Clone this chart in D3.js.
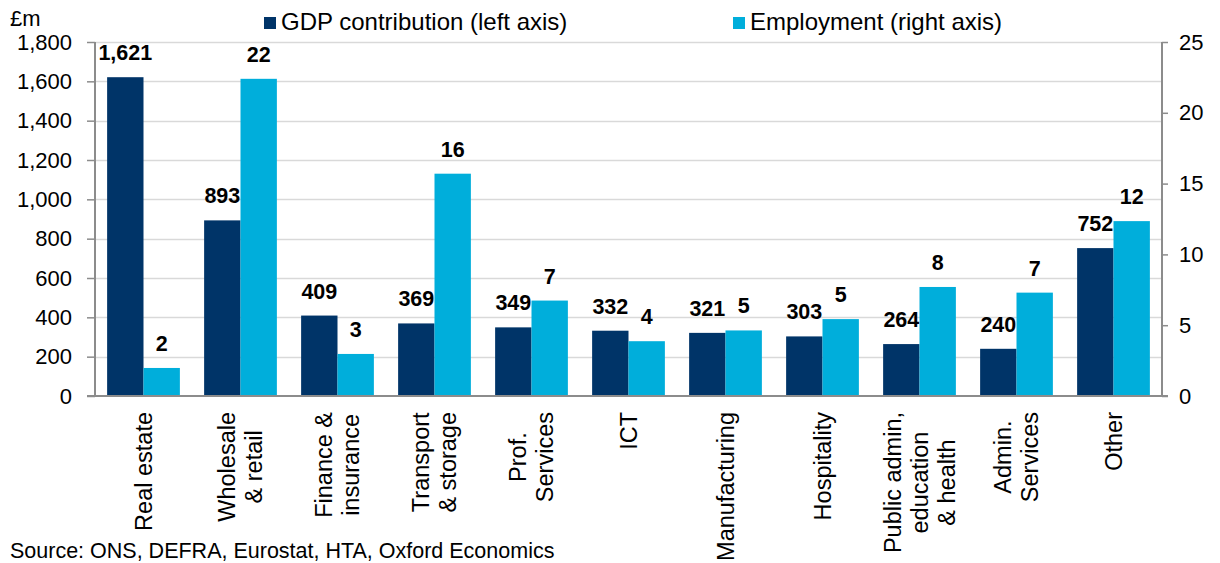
<!DOCTYPE html>
<html>
<head>
<meta charset="utf-8">
<script src="https://cdn.jsdelivr.net/npm/d3@7"></script>
<style>
  html, body { margin: 0; padding: 0; background: #fff; }
  svg { display: block; font-family: "Liberation Sans", Arial, sans-serif; }
</style>
</head>
<body>
<svg id="chart" width="1220" height="563"></svg>
<script>
// ---- Data ----
const categories = ["Real estate", "Wholesale & retail", "Finance & insurance", "Transport & storage",
  "Prof. Services", "ICT", "Manufacturing", "Hospitality", "Public admin, education & health",
  "Admin. Services", "Other"];
const categoryLines = [["Real estate"], ["Wholesale", "& retail"], ["Finance &", "insurance"],
  ["Transport", "& storage"], ["Prof.", "Services"], ["ICT"], ["Manufacturing"], ["Hospitality"],
  ["Public admin,", "education", "& health"], ["Admin.", "Services"], ["Other"]];
const gdpValues = [1621, 893, 409, 369, 349, 332, 321, 303, 264, 240, 752];
const employmentValues = [1.98, 22.4, 2.97, 15.7, 6.74, 3.87, 4.63, 5.43, 7.7, 7.3, 12.35];
const leftTicks = [0, 200, 400, 600, 800, 1000, 1200, 1400, 1600, 1800];
const rightTicks = [0, 5, 10, 15, 20, 25];
const seriesNames = ["GDP contribution (left axis)", "Employment (right axis)"];

// ---- Layout ----
const svg = d3.select("#chart");
const plot = { left: 95, right: 1162, top: 42, bottom: 396 };
const colors = { gdp: "#003468", emp: "#00AEDB" };
const axisColor = "#8c8c8c";
const gridColor = "#d9d9d9";

const x = d3.scaleBand().domain(categories).range([plot.left, plot.right])
  .paddingInner(0.25).paddingOuter(0.125);
const xs = d3.scaleBand().domain(["gdp", "emp"]).range([0, x.bandwidth()]);
const yL = d3.scaleLinear().domain([0, 1800]).range([plot.bottom, plot.top]);
const yR = d3.scaleLinear().domain([0, 25]).range([plot.bottom, plot.top]);

// gridlines
svg.append("g").selectAll("line").data(leftTicks.filter(d => d > 0)).join("line")
  .attr("x1", plot.left).attr("x2", plot.right)
  .attr("y1", d => Math.round(yL(d)) + 0.5).attr("y2", d => Math.round(yL(d)) + 0.5)
  .attr("stroke", gridColor).attr("stroke-width", 1.3);

// bars
const rows = categories.map((c, i) => ({ c, gdp: gdpValues[i], emp: employmentValues[i] }));
const g = svg.append("g");
g.selectAll("rect.gdp").data(rows).join("rect").attr("class", "gdp")
  .attr("x", d => x(d.c) + xs("gdp")).attr("width", xs.bandwidth())
  .attr("y", d => yL(d.gdp)).attr("height", d => yL(0) - yL(d.gdp))
  .attr("fill", colors.gdp);
g.selectAll("rect.emp").data(rows).join("rect").attr("class", "emp")
  .attr("x", d => x(d.c) + xs("emp")).attr("width", xs.bandwidth())
  .attr("y", d => yR(d.emp)).attr("height", d => yR(0) - yR(d.emp))
  .attr("fill", colors.emp);

// data labels
const fmt = d3.format(",");
g.selectAll("text.lg").data(rows).join("text").attr("class", "lg")
  .attr("x", d => x(d.c) + xs("gdp") + xs.bandwidth() / 2)
  .attr("y", d => yL(d.gdp) - 17)
  .attr("text-anchor", "middle").attr("font-size", 21.5).attr("font-weight", "bold")
  .text(d => fmt(d.gdp));
g.selectAll("text.le").data(rows).join("text").attr("class", "le")
  .attr("x", d => x(d.c) + xs("emp") + xs.bandwidth() / 2)
  .attr("y", d => yR(d.emp) - 17)
  .attr("text-anchor", "middle").attr("font-size", 21.5).attr("font-weight", "bold")
  .text(d => Math.round(d.emp));

// axes
const leftAxis = d3.axisLeft(yL).tickValues(leftTicks).tickFormat(fmt).tickSize(8).tickPadding(15);
const gl = svg.append("g").attr("transform", `translate(${plot.left},0)`).call(leftAxis);
const rightAxis = d3.axisRight(yR).tickValues(rightTicks).tickSize(6).tickPadding(11);
const gr = svg.append("g").attr("transform", `translate(${plot.right},0)`).call(rightAxis);
[gl, gr].forEach(a => {
  a.select(".domain").attr("stroke", axisColor).attr("stroke-width", 2)
    .attr("d", `M0,${plot.top}V${plot.bottom}`);
  a.selectAll(".tick line").attr("stroke", axisColor).attr("stroke-width", 1.5);
  a.selectAll(".tick text").attr("font-size", 22).attr("fill", "#000")
    .attr("font-family", "'Liberation Sans', Arial, sans-serif");
});

// bottom axis line
const xAxis = d3.axisBottom(x).tickSize(0).tickFormat("");
const gx = svg.append("g").attr("transform", `translate(0,${plot.bottom})`).call(xAxis);
gx.select(".domain").attr("stroke", axisColor).attr("stroke-width", 2)
  .attr("d", `M${plot.left - 8},0H${plot.right + 6}`);

// category labels (rotated)
const labelTop = 412, lineGap = 27, capHalf = 8;
categories.forEach((c, i) => {
  const lines = categoryLines[i];
  const cx = x(c) + x.bandwidth() / 2;
  const tg = svg.append("g");
  const texts = lines.map((ln, j) => {
    const baseX = cx + (j - (lines.length - 1) / 2) * lineGap + capHalf;
    return tg.append("text").attr("font-size", 23.5).attr("text-anchor", "middle")
      .attr("data-bx", baseX).text(ln);
  });
  const maxLen = d3.max(texts, t => t.node().getComputedTextLength());
  const cy = labelTop + maxLen / 2;
  texts.forEach(t => {
    const bx = +t.attr("data-bx");
    t.attr("transform", `translate(${bx},${cy}) rotate(-90)`);
  });
});

// legend
const legend = [{ name: seriesNames[0], color: colors.gdp, x: 264 }, { name: seriesNames[1], color: colors.emp, x: 733 }];
legend.forEach(l => {
  svg.append("rect").attr("x", l.x).attr("y", 17).attr("width", 12).attr("height", 12).attr("fill", l.color);
  svg.append("text").attr("x", l.x + 17).attr("y", 30).attr("font-size", 24).text(l.name);
});

// unit label & source
svg.append("text").attr("x", 10).attr("y", 26).attr("font-size", 22).text("£m");
svg.append("text").attr("x", 10).attr("y", 558).attr("font-size", 21.5)
  .text("Source: ONS, DEFRA, Eurostat, HTA, Oxford Economics");
</script>
</body>
</html>
